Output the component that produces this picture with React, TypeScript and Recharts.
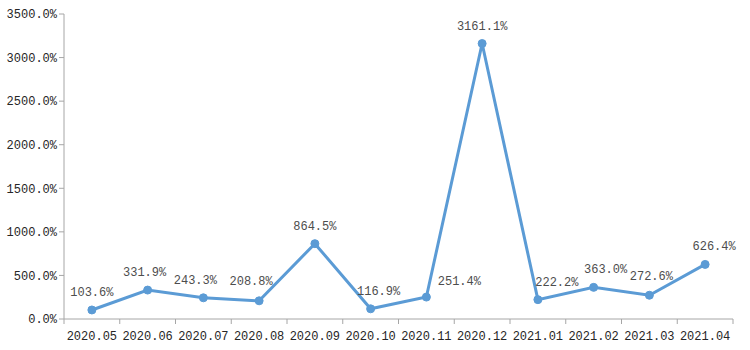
import { LineChart, Line, XAxis, YAxis, LabelList } from "recharts"

const months = [
  "2020.05", "2020.06", "2020.07", "2020.08", "2020.09", "2020.10",
  "2020.11", "2020.12", "2021.01", "2021.02", "2021.03", "2021.04",
]
const growth = [103.6, 331.9, 243.3, 208.8, 864.5, 116.9, 251.4, 3161.1, 222.2, 363.0, 272.6, 626.4]
const yTicks = [0, 500, 1000, 1500, 2000, 2500, 3000, 3500]

const data = months.map((m, i) => ({ month: m, value: growth[i] }))

// label nudges so the text doesn't sit on the line
const nudge: [number, number][] = [
  [0, 0], [-3, 0], [-8, 0], [-8, -2], [0, 0], [8, 0],
  [33, 2], [0, 0], [19, 0], [12, 0], [2, -1], [9, 0],
]

const W = 750
const H = 350
const M = { top: 14, right: 17, left: 0, bottom: 0 }
const Y_W = 64
const X_H = 31
const band = (W - Y_W - M.right - M.left) / months.length

const font = "'Liberation Mono', monospace"
const axisColor = "#a6a6a6"

function XTick(props: any) {
  const { x, payload, index } = props
  const half = band / 2
  const axisY = H - X_H
  return (
    <g>
      <line x1={x - half} x2={x - half} y1={axisY} y2={axisY + 5} stroke={axisColor} />
      {index === months.length - 1 && (
        <line x1={x + half} x2={x + half} y1={axisY} y2={axisY + 5} stroke={axisColor} />
      )}
      <text x={x} y={axisY + 21} textAnchor="middle" fill="#262626" fontSize={12} fontFamily={font}>
        {payload.value}
      </text>
    </g>
  )
}

function PointLabel(props: any) {
  const { x, y, value, index } = props
  const [dx, dy] = nudge[index] || [0, 0]
  return (
    <text
      x={x + dx}
      y={y - 14 + dy}
      textAnchor="middle"
      fill="#4d4d4d"
      fontSize={12}
      fontFamily={font}
    >
      {value.toFixed(1)}%
    </text>
  )
}

export default function App() {
  return (
    <div style={{ position: "absolute", left: 0, top: 0, width: W, height: H, background: "#fff" }}>
      <LineChart width={W} height={H} data={data} margin={M}>
        <XAxis
          dataKey="month"
          scale="band"
          height={X_H}
          stroke={axisColor}
          tickLine={false}
          interval={0}
          tick={<XTick />}
        />
        <YAxis
          width={Y_W}
          domain={[0, 3500]}
          ticks={yTicks}
          interval={0}
          stroke={axisColor}
          tickSize={5}
          tick={{ fill: "#262626", fontSize: 12, fontFamily: font }}
          tickFormatter={(v) => `${v.toFixed(1)}%`}
        />
        <Line
          type="linear"
          dataKey="value"
          stroke="#5b9bd5"
          strokeWidth={3}
          dot={{ r: 4, fill: "#5b9bd5", stroke: "#5b9bd5", strokeWidth: 1 }}
          isAnimationActive={false}
        >
          <LabelList dataKey="value" content={<PointLabel />} />
        </Line>
      </LineChart>
    </div>
  )
}
